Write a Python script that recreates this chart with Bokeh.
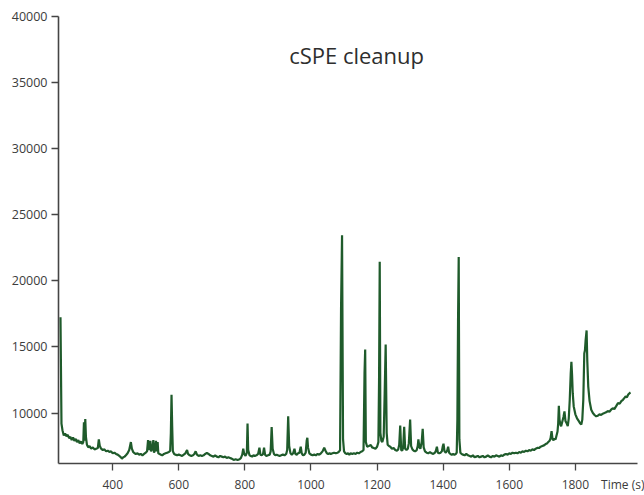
from bokeh.plotting import figure
from bokeh.models import Range1d, FixedTicker, Label, ColumnDataSource
from bokeh.embed import file_html
from bokeh.resources import INLINE

# Chromatogram trace (time in s, intensity)
time_s = [
    242, 245, 248, 252, 256, 260, 264, 268, 272, 276, 280, 284, 288, 292, 296, 300, 304, 308, 311, 313,
    315, 317, 319, 322, 326, 330, 335, 340, 345, 350, 355, 358, 361, 365, 370, 375, 380, 385, 390, 395,
    400, 405, 410, 415, 420, 425, 428, 432, 436, 440, 445, 450, 455, 458, 462, 466, 470, 475, 480, 485,
    490, 495, 500, 504, 507, 509, 512, 514, 516, 520, 523, 525, 528, 531, 533, 536, 538, 542, 546, 550,
    555, 560, 565, 570, 574, 576, 578, 580, 582, 586, 590, 595, 600, 605, 610, 615, 620, 625, 628, 633,
    638, 643, 647, 651, 655, 660, 665, 670, 675, 680, 685, 690, 695, 700, 705, 710, 715, 720, 725, 730,
    735, 740, 745, 750, 755, 760, 766, 772, 778, 784, 788, 792, 795, 798, 802, 806, 808, 810, 814, 818,
    822, 826, 830, 835, 840, 844, 847, 851, 855, 858, 861, 865, 870, 875, 878, 881, 884, 888, 892, 896,
    900, 905, 910, 915, 920, 925, 928, 931, 934, 938, 942, 946, 950, 953, 957, 961, 965, 969, 972, 976,
    980, 984, 987, 989, 991, 995, 1000, 1005, 1010, 1015, 1020, 1025, 1030, 1035, 1040, 1044, 1048, 1052, 1056, 1060,
    1065, 1070, 1075, 1080, 1084, 1088, 1091, 1094, 1097, 1100, 1104, 1108, 1112, 1116, 1120, 1125, 1130, 1135, 1140, 1145,
    1150, 1155, 1159, 1162, 1164, 1166, 1170, 1175, 1181, 1185, 1190, 1195, 1200, 1204, 1206, 1208, 1210, 1213, 1216, 1220,
    1223, 1226, 1229, 1232, 1236, 1240, 1245, 1250, 1255, 1260, 1264, 1267, 1270, 1273, 1276, 1279, 1282, 1285, 1289, 1293,
    1296, 1300, 1303, 1307, 1311, 1315, 1320, 1323, 1325, 1328, 1331, 1335, 1338, 1341, 1345, 1350, 1355, 1360, 1365, 1370,
    1375, 1378, 1381, 1384, 1388, 1392, 1396, 1399, 1401, 1404, 1408, 1412, 1415, 1418, 1422, 1426, 1430, 1434, 1438, 1441,
    1443, 1445, 1447, 1449, 1452, 1456, 1460, 1465, 1470, 1475, 1480, 1485, 1490, 1495, 1500, 1505, 1510, 1515, 1520, 1525,
    1530, 1535, 1540, 1545, 1550, 1555, 1560, 1565, 1570, 1575, 1580, 1585, 1590, 1595, 1600, 1605, 1610, 1615, 1620, 1625,
    1630, 1635, 1640, 1645, 1650, 1655, 1660, 1665, 1670, 1675, 1680, 1686, 1690, 1695, 1700, 1705, 1710, 1714, 1718, 1722,
    1725, 1728, 1731, 1734, 1737, 1740, 1743, 1746, 1748, 1750, 1752, 1755, 1757, 1760, 1764, 1767, 1770, 1774, 1777, 1780,
    1783, 1786, 1788, 1790, 1792, 1795, 1800, 1805, 1810, 1815, 1818, 1821, 1824, 1827, 1829, 1831, 1834, 1836, 1839, 1843,
    1848, 1853, 1858, 1863, 1868, 1873, 1878, 1883, 1888, 1893, 1898, 1903, 1908, 1913, 1918, 1923, 1929, 1934, 1939, 1944,
    1948, 1952, 1956, 1960, 1964, 1967,
]

intensity = [
    17250, 9200, 8700, 8300, 8450, 8250, 8350, 8100, 8200, 7950, 8150, 7900, 8050, 7800, 7950, 7700, 7850, 7650, 7800, 9300,
    7900, 9550, 8200, 7600, 7400, 7500, 7300, 7400, 7250, 7300, 7350, 8000, 7500, 7300, 7200, 7250, 7100, 7150, 7050, 7100,
    6950, 7000, 6900, 6850, 6750, 6650, 6550, 6650, 6700, 6800, 6950, 7200, 7800, 7300, 7050, 6950, 6900, 6950, 6850, 6900,
    6800, 6900, 7000, 7100, 7950, 7200, 7500, 7900, 7100, 7300, 7950, 7000, 7200, 7900, 7100, 7800, 6950, 6900, 6850, 6800,
    6900, 6950, 7000, 7050, 7150, 8500, 11380, 9000, 7100, 6900, 6850, 6800, 6850, 6800, 6750, 6850, 6950, 7200, 6900, 6800,
    6750, 6800, 6900, 7100, 6850, 6750, 6800, 6750, 6800, 6900, 6980, 6900, 6800, 6750, 6700, 6800, 6700, 6650, 6750, 6700,
    6650, 6700, 6600, 6650, 6600, 6550, 6450, 6500, 6450, 6500, 6600, 6850, 7300, 6900, 6750, 7000, 9200, 7200, 6800, 6750,
    6700, 6800, 6750, 6800, 6900, 7375, 6850, 6800, 6900, 7375, 6850, 6750, 6800, 6850, 7100, 8930, 7300, 6900, 6800, 6850,
    6800, 6750, 6800, 6850, 6800, 6900, 7200, 9750, 7500, 6950, 6850, 6950, 7300, 6900, 6850, 6950, 7000, 7450, 6950, 6800,
    6850, 7000, 7900, 8125, 7400, 6950, 6850, 6800, 6850, 6800, 6900, 6850, 6950, 7100, 7375, 7150, 6950, 6900, 6950, 6900,
    6950, 7000, 6950, 7000, 7050, 7200, 18000, 23450, 8000, 7100, 6950, 6900, 6950, 6850, 6950, 6900, 6950, 6900, 7000, 6950,
    7050, 7100, 7200, 13000, 14800, 7800, 7450, 7500, 7575, 7400, 7350, 7300, 7450, 7800, 12500, 21450, 8500, 7900, 7800, 8200,
    11500, 15175, 8500, 7600, 7500, 7450, 7300, 7350, 7200, 7150, 7250, 7600, 9050, 7200, 7150, 7400, 8950, 7300, 7200, 7300,
    7700, 9500, 7500, 7250, 7150, 7100, 7200, 7500, 8000, 7400, 7300, 7800, 8800, 7400, 7100, 7000, 6950, 7050, 6950, 6900,
    7000, 7150, 7450, 7000, 6950, 7000, 7100, 7500, 7675, 7100, 7000, 7150, 7450, 7000, 6900, 6850, 6900, 6850, 6900, 7000,
    9500, 17000, 21800, 8000, 7000, 6900, 6850, 6800, 6900, 6800, 6750, 6700, 6800, 6650, 6700, 6750, 6650, 6700, 6750, 6650,
    6700, 6800, 6700, 6650, 6750, 6700, 6800, 6750, 6700, 6800, 6750, 6850, 6900, 6850, 6950, 6900, 7000, 6950, 7000, 6950,
    7050, 7000, 7100, 7050, 7150, 7100, 7200, 7150, 7250, 7200, 7300, 7375, 7350, 7450, 7500, 7550, 7650, 7700, 7800, 7900,
    8100, 8625, 8000, 7950, 8050, 8000, 8300, 8600, 9200, 10550, 9500, 9100, 9000, 9300, 9700, 10125, 9400, 9200, 9000, 9600,
    11000, 13000, 13875, 12900, 11500, 10500, 9900, 9600, 9400, 9200, 9125, 9500, 11000, 14500, 14750, 15500, 16250, 14000, 12000, 10900,
    10250, 10000, 9850, 9750, 9800, 9900, 9850, 9950, 10000, 10050, 10150, 10100, 10250, 10350, 10300, 10500, 10750, 10700, 10900, 11000,
    11125, 11250, 11200, 11400, 11500, 11550,
]

x_ticks = [400, 600, 800, 1000, 1200, 1400, 1600, 1800]
y_ticks = [10000, 15000, 20000, 25000, 30000, 35000, 40000]
title_text = "cSPE cleanup"
x_label_text = "Time (s)"
x_label_at = 1945  # position of the axis title along the time axis

source = ColumnDataSource(data=dict(t=time_s, v=intensity))

p = figure(
    width=644, height=495,
    x_range=Range1d(236, 1988), y_range=Range1d(6180, 40000),
    output_backend="svg", toolbar_location=None,
    min_border_left=58, min_border_right=7, min_border_top=16, min_border_bottom=27,
)
p.outline_line_color = None
p.grid.visible = False
p.background_fill_color = "white"
p.border_fill_color = "white"

p.line("t", "v", source=source, line_color="#1f5b2b", line_width=2.2)

axis_color = "#454545"
label_color = "#3c3c3c"

# x axis: labels on "major" positions (incl. the axis title), tick marks drawn as minor ticks
xa = p.xaxis[0]
xa.ticker = FixedTicker(ticks=x_ticks + [x_label_at], minor_ticks=x_ticks)
xa.major_label_overrides = {x_label_at: x_label_text}
xa.axis_line_color = axis_color
xa.axis_line_width = 1.6
xa.major_tick_line_color = None
xa.major_tick_in = 0
xa.major_tick_out = 0
xa.minor_tick_line_color = axis_color
xa.minor_tick_line_width = 1.3
xa.minor_tick_in = 0
xa.minor_tick_out = 7
xa.major_label_standoff = 5
xa.major_label_text_font = "Open Sans"
xa.major_label_text_font_size = "12px"
xa.major_label_text_color = label_color

ya = p.yaxis[0]
ya.ticker = FixedTicker(ticks=y_ticks)
ya.axis_line_color = axis_color
ya.axis_line_width = 1.6
ya.major_tick_line_color = axis_color
ya.major_tick_line_width = 1.3
ya.major_tick_in = 0
ya.major_tick_out = 7
ya.minor_tick_line_color = None
ya.major_label_text_font = "Open Sans"
ya.major_label_text_font_size = "12.5px"
ya.major_label_text_color = label_color
ya.major_label_standoff = 4

p.add_layout(Label(
    x=1138, y=37050, text=title_text, text_font="Open Sans",
    text_font_size="22px", text_color="#2e2e2e", text_baseline="alphabetic", text_align="center",
))

open("out.html", "w").write(file_html(p, INLINE))
